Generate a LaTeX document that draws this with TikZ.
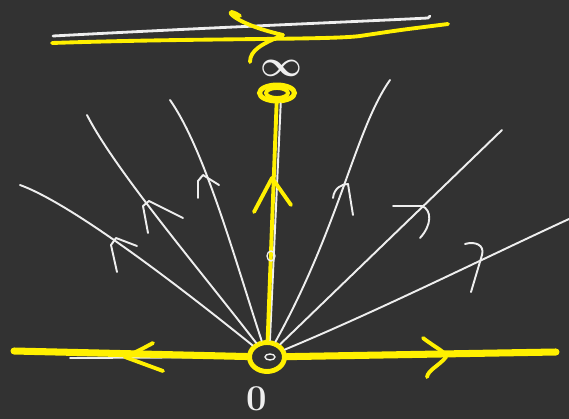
\documentclass[tikz,border=0pt]{standalone}
\usepackage{amsmath, amssymb}
\usetikzlibrary{shapes.geometric, positioning}
\definecolor{board}{HTML}{323232}
\definecolor{marker}{HTML}{FFF000}
\definecolor{chalk}{HTML}{EEEEEE}

\begin{document}
\begin{tikzpicture}[
        x=0.02cm, y=-0.02cm,
        thinpen/.style={draw=chalk, line width=1.1pt, line cap=round, line join=round},
        markpen/.style={draw=marker, line width=2.2pt, line cap=round, line join=round},
        fatpen/.style={draw=marker, line width=4pt, line cap=round, line join=round},
        blob/.style={ellipse, draw=marker, line width=2.8pt, inner sep=0pt},
    ]
        \useasboundingbox (0,0) rectangle (569,419);
        \fill[board] (-3,-3) rectangle (572,422);

        %--- points ---
        \node[blob, minimum width=0.7cm, minimum height=0.58cm] (origin) at (267,357) {};
        \node[blob, minimum width=0.7cm, minimum height=0.32cm] (top)    at (277,93) {};
        \node[text=chalk, font=\huge\bfseries, inner sep=0pt] (zero)  at (257,399) {0};
        \node[text=chalk, font=\huge] (infty) at (281,68)  {$\boldsymbol{\infty}$};
        \draw[markpen] (top) ellipse (11 and 5);
        \draw[thinpen, line width=0.8pt] (270,357) ellipse (5 and 3);

        %--- real line ---
        \coordinate (lefttip)  at (14,351);
        \coordinate (righttip) at (556,352);
        \draw[thinpen] (origin) -- (70,358);
        \draw[fatpen] (origin) -- (lefttip);
        \draw[fatpen] (origin) -- (righttip);
        \draw[markpen] (153,343) .. controls (140,350) .. (125,357) -- (163,371);
        \draw[markpen] (423,338) .. controls (436,348) and (446,352) .. (446,357)
                       .. controls (440,365) and (428,370) .. (427,377);

        %--- vertical ---
        \draw[thinpen] (origin.80) -- (top.-70);
        \draw[markpen] (origin) -- (top);
        \draw[markpen] (254,212) -- (272,178) -- (291,205);
        \draw[thinpen, line width=0.8pt] (271,256) ellipse (4 and 5);

        %--- line at infinity ---
        \coordinate (wl) at (53,36);  \coordinate (wr) at (428,18);
        \coordinate (yl) at (52,43);  \coordinate (yr) at (448,24);
        \draw[thinpen, line width=1.6pt] (wl) .. controls (200,28) and (350,22) .. (wr) -- (430,16);
        \draw[markpen] (yl) .. controls (200,38) and (330,40) .. (360,36)
                       .. controls (400,30) .. (yr);
        \draw[markpen] (240,16) .. controls (222,4) and (226,22) .. (283,35)
                       .. controls (262,44) and (250,50) .. (250,62);

        %--- left rays ---
        \coordinate (ray1) at (20,185);
        \coordinate (ray2) at (87,115);
        \coordinate (ray3) at (170,100);
        \draw[thinpen] (origin) .. controls (190,295) and (75,205) .. (ray1);
        \draw[thinpen] (origin) .. controls (200,270) and (115,170) .. (ray2);
        \draw[thinpen] (origin) .. controls (235,260) and (205,150) .. (ray3);
        \draw[thinpen] (117,272) -- (111,245) -- (116,238) -- (137,246);
        \draw[thinpen] (148,233) -- (143,206) -- (149,201) -- (183,218);
        \draw[thinpen] (198,198) -- (198,181) -- (203,175) -- (219,185);

        %--- right rays ---
        \coordinate (ray4) at (390,80);
        \coordinate (ray5) at (502,130);
        \coordinate (ray6) at (569,219);
        \draw[thinpen] (origin) .. controls (340,225) and (355,130) .. (ray4);
        \draw[thinpen] (origin) -- (ray5);
        \draw[thinpen] (origin) .. controls (380,310) and (480,260) .. (ray6);
        \draw[thinpen] (333,198) .. controls (334,188) and (342,184) .. (348,184) -- (353,215);
        \draw[thinpen] (393,206) -- (422,206) .. controls (432,210) and (432,225) .. (420,238);
        \draw[thinpen] (465,244) .. controls (475,241) and (485,245) .. (482,255) -- (471,292);
    \end{tikzpicture}
\end{document}
